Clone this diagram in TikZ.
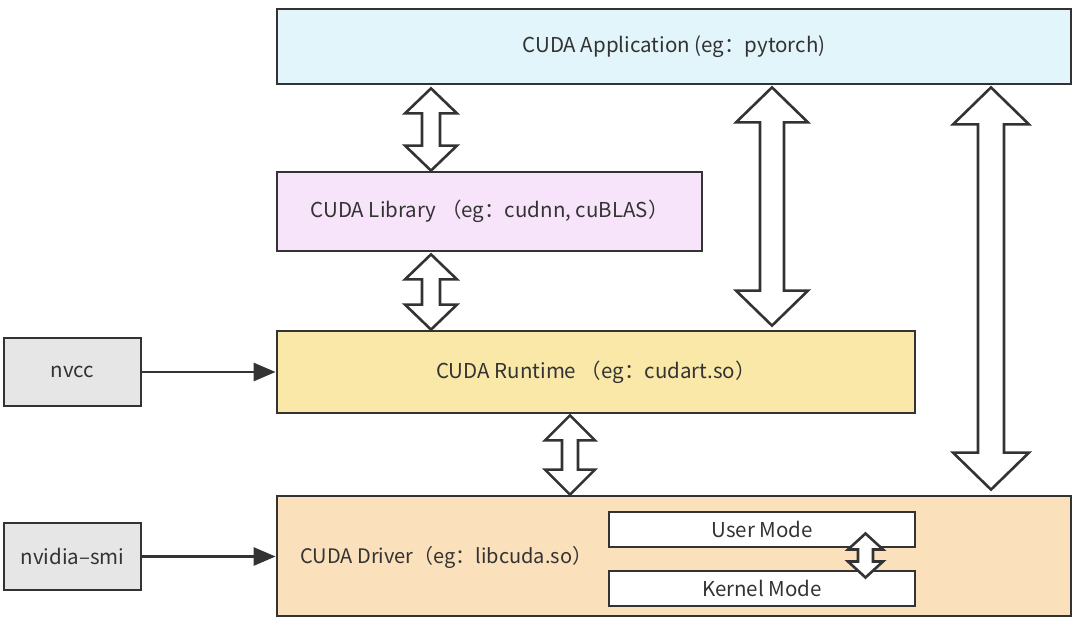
\documentclass[tikz,border=0pt]{standalone}
\usepackage{fontspec}
\setmainfont{Noto Sans CJK SC}
\usetikzlibrary{arrows.meta,calc}
\definecolor{edge}{HTML}{333333}
\definecolor{appfill}{HTML}{E1F5FB}
\definecolor{libfill}{HTML}{F8E4FA}
\definecolor{rtfill}{HTML}{FAE8A9}
\definecolor{drvfill}{HTML}{FAE0BB}
\definecolor{toolfill}{HTML}{E6E6E6}
\definecolor{txt}{HTML}{333333}
\tikzset{
  box/.style={draw=edge, line width=2.8pt, rectangle, inner sep=0pt, text=txt,
    font=\fontsize{20.5}{24}\selectfont},
  blk/.style={draw=edge, fill=white, line width=2.6pt, line join=miter},
  feed/.style={draw=edge, line width=2.8pt, -{Triangle[length=22pt,width=18pt]}},
}
% #1 top anchor, #2 bottom anchor, #3 x, #4 head half width, #5 shaft half width, #6 head length
\newcommand{\bidir}[6]{%
  \draw[blk] let \p1=(#1), \p2=(#2) in
    (#3pt,\y1) -- (#3pt+#4pt,\y1-#6pt) -- (#3pt+#5pt,\y1-#6pt) --
    (#3pt+#5pt,\y2+#6pt) -- (#3pt+#4pt,\y2+#6pt) -- (#3pt,\y2) --
    (#3pt-#4pt,\y2+#6pt) -- (#3pt-#5pt,\y2+#6pt) -- (#3pt-#5pt,\y1-#6pt) --
    (#3pt-#4pt,\y1-#6pt) -- cycle;}
\begin{document}
\begin{tikzpicture}[x=1pt,y=-1pt]
\useasboundingbox (0,0) rectangle (1080,627);
% main boxes
\node[box, fill=appfill, minimum width=794pt, minimum height=75pt] (app) at (674,46.5) {CUDA Application (eg：pytorch)};
\node[box, fill=libfill, minimum width=425pt, minimum height=79pt] (lib) at (489.5,211.5) {CUDA Library （eg：cudnn, cuBLAS）};
\node[box, fill=rtfill, minimum width=638pt, minimum height=82pt] (rt) at (596,372) {CUDA Runtime （eg：cudart.so）};
\node[box, fill=drvfill, minimum width=794pt, minimum height=120pt] (drv) at (674,556) {};
\node[anchor=west, inner sep=0pt, text=txt, font=\fontsize{20}{24}\selectfont] (drvlabel) at (300,557) {CUDA Driver（eg：libcuda.so）};
\node[box, fill=white, minimum width=306pt, minimum height=35pt, line width=2.4pt] (user) at (762,529.5) {User Mode};
\node[box, fill=white, minimum width=306pt, minimum height=35pt, line width=2.4pt] (kernel) at (762,588.5) {Kernel Mode};
% tools
\node[box, fill=toolfill, minimum width=137pt, minimum height=68pt] (nvcc) at (72.5,372) {nvcc};
\node[box, fill=toolfill, minimum width=137pt, minimum height=67pt] (smi) at (72.5,556.5) {nvidia–smi};
% feed arrows
\draw[feed] (nvcc.east) -- (nvcc.east -| rt.west);
\draw[feed] (smi.east) -- (smi.east -| drv.west);
% block double arrows
\bidir{[yshift=-3pt]app.south}{lib.north}{431}{26}{9}{25}
\bidir{[yshift=-2pt]lib.south}{rt.north}{431}{26}{9}{25}
\bidir{[yshift=-2pt]app.south}{[yshift=4pt]rt.north}{772}{36}{12}{35}
\bidir{[yshift=-2pt]app.south}{[yshift=5pt]drv.north}{991}{38}{13}{37}
\bidir{[yshift=-1pt]rt.south}{drv.north}{570}{25}{8}{25}
\bidir{[yshift=-4pt]user.center}{[yshift=11pt]kernel.center}{865.5}{17.5}{7.5}{16}
\end{tikzpicture}
\end{document}
